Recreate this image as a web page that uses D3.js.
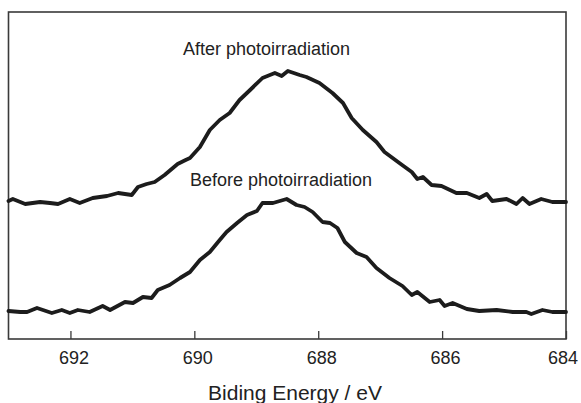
<!DOCTYPE html>
<html lang="en">
<head>
<meta charset="utf-8">
<title>XPS F 1s before / after photoirradiation</title>
<script src="https://d3js.org/d3.v7.min.js"></script>
<style>
    body { margin: 0; background: #fff; }
    svg text { font-family: "Liberation Sans", Arial, sans-serif; fill: #222; }
</style>
</head>
<body>
<svg id="chart"></svg>
<script>
    // binding energy (eV) and intensity (arb. units)
    const afterEnergy = [693.00, 692.93, 692.73, 692.49, 692.33, 692.20, 692.01, 691.85, 691.64, 691.41,
        691.23, 691.01, 690.91, 690.77, 690.64, 690.48, 690.27, 690.14, 690.07, 689.91,
        689.75, 689.59, 689.43, 689.27, 689.10, 688.90, 688.70, 688.59, 688.49, 688.30,
        688.19, 687.98, 687.77, 687.60, 687.46, 687.28, 687.06, 686.93, 686.69, 686.49,
        686.40, 686.31, 686.17, 686.01, 685.77, 685.60, 685.40, 685.28, 685.19, 684.96,
        684.80, 684.70, 684.59, 684.40, 684.22, 684.00];
    const afterCounts = [138, 140, 135, 137, 136, 135, 140, 136, 141, 143,
        146, 144, 152, 155, 157, 164, 175, 179, 181, 192,
        209, 219, 226, 239, 249, 261, 266, 263, 268, 264,
        262, 256, 246, 236, 221, 209, 197, 187, 176, 167,
        160, 162, 154, 153, 146, 146, 141, 145, 138, 140,
        135, 141, 135, 140, 137, 137];

    const beforeEnergy = [693.00, 692.81, 692.70, 692.54, 692.30, 692.14, 692.01, 691.88, 691.69, 691.48,
        691.36, 691.12, 690.99, 690.83, 690.69, 690.59, 690.40, 690.23, 690.07, 689.91,
        689.75, 689.59, 689.48, 689.31, 689.15, 688.99, 688.90, 688.73, 688.51, 688.35,
        688.22, 688.09, 687.93, 687.81, 687.69, 687.57, 687.38, 687.22, 687.06, 686.85,
        686.64, 686.49, 686.40, 686.20, 686.04, 685.96, 685.83, 685.60, 685.40, 685.12,
        684.86, 684.64, 684.56, 684.38, 684.22, 684.00];
    const beforeCounts = [28, 27, 27, 31, 26, 29, 26, 29, 27, 33,
        29, 37, 36, 42, 41, 49, 54, 61, 67, 79,
        87, 99, 107, 116, 124, 128, 136, 136, 140, 134,
        132, 127, 117, 116, 111, 97, 86, 82, 71, 61,
        53, 44, 47, 37, 39, 33, 36, 30, 28, 29,
        27, 27, 25, 29, 27, 27];

    const xTicks = [692, 690, 688, 686, 684];
    const seriesLabels = ["After photoirradiation", "Before photoirradiation"];

    const W = 581, H = 403;
    const mLeft = 8.5, mRight = 566, mTop = 12, mBottom = 339;

    const svg = d3.select("#chart").attr("width", W).attr("height", H);

    const x = d3.scaleLinear().domain([693, 684]).range([mLeft, mRight]);
    const y = d3.scaleLinear().domain([0, 327]).range([mBottom, mTop]);

    // frame
    svg.append("rect")
        .attr("x", mLeft).attr("y", mTop)
        .attr("width", mRight - mLeft).attr("height", mBottom - mTop)
        .attr("fill", "none")
        .attr("stroke", "#3a3a3a")
        .attr("stroke-width", 1.6);

    // bottom axis, ticks pointing in
    const xAxis = d3.axisBottom(x)
        .tickValues(xTicks)
        .tickFormat(d3.format("d"))
        .tickSizeInner(-8)
        .tickSizeOuter(0)
        .tickPadding(12);
    const gx = svg.append("g")
        .attr("transform", "translate(0," + mBottom + ")")
        .call(xAxis);
    gx.select(".domain").remove();
    gx.selectAll("line").attr("stroke", "#3a3a3a").attr("stroke-width", 1.3);
    gx.selectAll("text")
        .attr("font-size", 18)
        .attr("fill", "#222")
        .style("font-family", "'Liberation Sans', Arial, sans-serif")
        .attr("dx", d => d === 684 ? -3.5 : 3);

    svg.append("text")
        .attr("x", 295)
        .attr("y", 400)
        .attr("text-anchor", "middle")
        .attr("font-size", 21)
        .text("Biding Energy / eV");

    const line = d3.line()
        .x(d => x(d[0]))
        .y(d => y(d[1]));

    const series = [
        d3.zip(afterEnergy, afterCounts),
        d3.zip(beforeEnergy, beforeCounts)
    ];

    svg.selectAll("path.spec")
        .data(series)
        .enter().append("path")
        .attr("class", "spec")
        .attr("d", line)
        .attr("fill", "none")
        .attr("stroke", "#1c1c1c")
        .attr("stroke-width", 3.8)
        .attr("stroke-linejoin", "round")
        .attr("stroke-linecap", "round");

    // curve labels
    svg.append("text")
        .attr("x", 183).attr("y", 55)
        .attr("font-size", 18)
        .text(seriesLabels[0]);
    svg.append("text")
        .attr("x", 190).attr("y", 186)
        .attr("font-size", 18)
        .text(seriesLabels[1]);
</script>
</body>
</html>
